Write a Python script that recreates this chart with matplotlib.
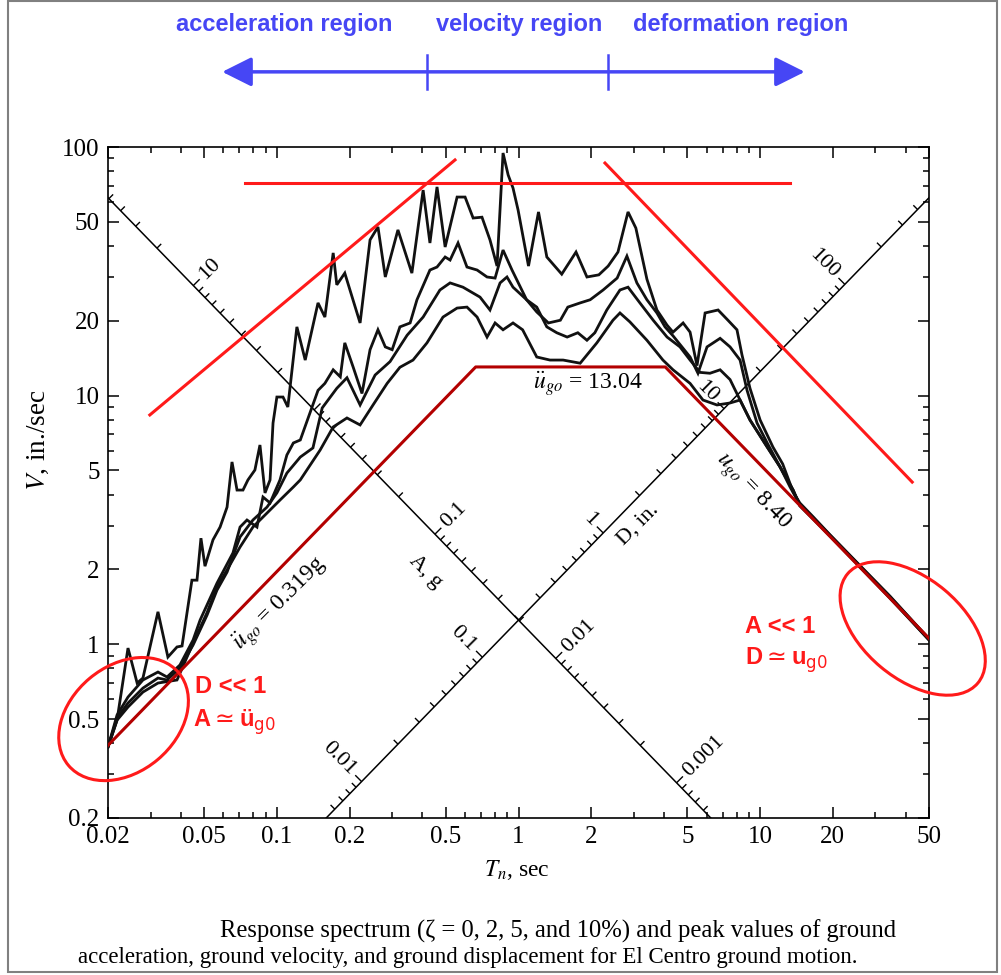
import numpy as np
import matplotlib.pyplot as plt
import matplotlib.transforms as mtransforms
from matplotlib.patches import Ellipse, Rectangle
from matplotlib.ticker import FixedLocator, FixedFormatter, LogLocator, NullFormatter

plt.rcParams['font.family'] = ['Liberation Serif', 'DejaVu Serif']
plt.rcParams['mathtext.fontset'] = 'stix'

# pseudo-velocity response spectra, El Centro (T in sec, V in in./sec)
T_z0 = [0.0200, 0.0218, 0.0242, 0.0264, 0.0279, 0.0322, 0.0354, 0.0386, 0.0405, 0.0445,
        0.0467, 0.0485, 0.0504, 0.0544, 0.0582, 0.0622, 0.0652, 0.0684, 0.0724, 0.0759,
        0.0811, 0.0851, 0.0893, 0.0937, 0.0964, 0.100, 0.106, 0.111, 0.121, 0.131,
        0.148, 0.158, 0.171, 0.177, 0.191, 0.221, 0.243, 0.262, 0.281, 0.317,
        0.362, 0.403, 0.430, 0.460, 0.497, 0.557, 0.601, 0.649, 0.706, 0.762,
        0.815, 0.863, 0.906, 0.949, 0.996, 1.10, 1.21, 1.31, 1.51, 1.73,
        1.92, 2.15, 2.35, 2.58, 2.84, 3.06, 3.40, 3.74, 4.12, 4.36,
        4.80, 5.13, 5.48, 5.92, 6.70, 7.36, 8.02, 8.41, 9.08, 10.0,
        11.3, 12.4, 13.7, 14.6, 16.6, 19.5, 25.2, 34.5, 50.0]
V_z0 = [0.386, 0.495, 0.965, 0.698, 0.731, 1.35, 0.888, 0.975, 0.984, 1.81,
        1.81, 2.67, 2.06, 2.63, 2.96, 3.56, 5.41, 4.17, 4.17, 4.58,
        5.02, 6.33, 4.06, 4.58, 7.76, 9.87, 9.87, 9.00, 18.9, 13.9,
        23.6, 20.7, 37.5, 27.9, 31.1, 19.6, 42.3, 47.7, 30.0, 46.4,
        31.1, 67.1, 41.1, 69.1, 39.6, 62.9, 62.9, 51.8, 52.2, 42.3,
        33.2, 94.6, 77.2, 68.4, 55.8, 33.2, 54.8, 36.1, 30.8, 37.8,
        30.0, 30.6, 33.2, 37.8, 54.8, 47.2, 29.4, 22.1, 19.2, 18.0,
        19.6, 18.0, 13.2, 21.5, 22.1, 20.1, 18.4, 14.6, 10.7, 7.98,
        6.21, 5.31, 4.10, 3.70, 3.25, 2.75, 2.13, 1.56, 1.05]

T_z2 = [0.0200, 0.0218, 0.0242, 0.0279, 0.0322, 0.0351, 0.0397, 0.0450, 0.0481, 0.0565,
        0.0658, 0.0704, 0.0752, 0.0827, 0.0876, 0.0937, 0.103, 0.110, 0.117, 0.125,
        0.148, 0.158, 0.171, 0.183, 0.191, 0.207, 0.225, 0.243, 0.262, 0.281,
        0.300, 0.323, 0.356, 0.380, 0.430, 0.460, 0.497, 0.521, 0.562, 0.612,
        0.674, 0.741, 0.800, 0.863, 0.940, 1.08, 1.19, 1.33, 1.49, 1.60,
        1.80, 1.98, 2.24, 2.56, 2.81, 3.09, 3.40, 3.74, 4.04, 4.36,
        5.13, 5.53, 6.03, 6.83, 7.51, 8.26, 8.83, 9.71, 10.7, 12.1,
        13.3, 14.6, 16.6, 19.5, 25.2, 34.5, 50.0]
V_z2 = [0.386, 0.519, 0.613, 0.718, 0.773, 0.738, 0.825, 1.04, 1.25, 1.76,
        2.33, 2.96, 3.16, 2.96, 3.91, 3.70, 4.58, 5.77, 6.45, 6.63,
        10.5, 11.2, 12.7, 11.9, 16.3, 13.0, 10.2, 15.3, 18.4, 15.7,
        15.3, 18.9, 19.6, 24.3, 32.0, 32.9, 36.1, 35.1, 41.1, 32.9,
        32.0, 30.0, 29.7, 38.5, 32.0, 24.3, 21.7, 19.6, 20.1, 22.7,
        23.6, 24.3, 26.6, 29.7, 36.4, 28.4, 24.3, 21.5, 18.9, 17.4,
        14.3, 12.3, 15.7, 17.0, 15.7, 13.9, 10.5, 7.76, 6.45, 5.16,
        4.29, 3.65, 3.22, 2.74, 2.12, 1.55, 1.05]

T_z5 = [0.0200, 0.0218, 0.0242, 0.0279, 0.0322, 0.0351, 0.0397, 0.0450, 0.0514, 0.0565,
        0.0622, 0.0704, 0.0796, 0.0910, 0.100, 0.110, 0.125, 0.141, 0.154, 0.177,
        0.195, 0.221, 0.255, 0.294, 0.346, 0.403, 0.473, 0.521, 0.589, 0.693,
        0.762, 0.839, 0.896, 0.949, 1.08, 1.19, 1.31, 1.44, 1.59, 1.76,
        1.92, 2.07, 2.32, 2.63, 2.84, 3.18, 3.61, 4.12, 4.66, 5.13,
        5.64, 6.20, 6.83, 7.51, 8.26, 9.08, 10.7, 12.1, 13.7, 14.6,
        16.6, 19.5, 25.2, 34.5, 50.0]
V_z5 = [0.386, 0.505, 0.580, 0.666, 0.731, 0.718, 0.802, 0.993, 1.31, 1.65,
        1.95, 2.70, 3.16, 3.56, 4.06, 4.88, 5.66, 6.16, 8.92, 10.7,
        11.8, 9.17, 12.1, 13.7, 17.5, 20.7, 26.6, 28.4, 27.3, 24.9,
        22.1, 28.4, 30.0, 27.3, 24.3, 22.7, 18.9, 17.9, 17.2, 17.9,
        16.7, 17.9, 22.1, 26.6, 27.3, 23.6, 20.1, 17.2, 15.7, 13.9,
        12.4, 12.3, 12.7, 11.6, 9.60, 7.98, 6.21, 5.16, 4.17, 3.62,
        3.20, 2.73, 2.11, 1.54, 1.04]

T_z10 = [0.0200, 0.0218, 0.0242, 0.0279, 0.0322, 0.0386, 0.0450, 0.0514, 0.0565, 0.0622,
         0.0704, 0.0796, 0.0910, 0.103, 0.117, 0.125, 0.151, 0.171, 0.195, 0.221,
         0.250, 0.286, 0.323, 0.366, 0.418, 0.487, 0.557, 0.612, 0.674, 0.741,
         0.800, 0.863, 0.949, 1.04, 1.19, 1.35, 1.53, 1.80, 2.11, 2.46,
         2.63, 2.89, 3.40, 3.96, 4.36, 5.13, 5.80, 6.63, 7.51, 8.26,
         9.08, 10.7, 12.1, 13.7, 14.6, 16.6, 19.5, 25.2, 34.5, 50.0]
V_z10 = [0.386, 0.495, 0.559, 0.642, 0.698, 0.718, 1.01, 1.34, 1.70, 1.99,
         2.46, 2.96, 3.37, 3.80, 4.29, 4.58, 6.04, 7.48, 8.13, 7.62,
         9.17, 11.2, 13.0, 13.9, 16.3, 20.7, 22.5, 22.7, 20.7, 17.2,
         19.6, 18.4, 19.6, 18.4, 14.3, 13.9, 13.9, 13.5, 16.3, 20.1,
         21.5, 19.8, 16.7, 13.9, 12.7, 11.2, 9.60, 9.17, 9.34, 9.60,
         7.98, 6.21, 5.16, 4.17, 3.60, 3.18, 2.72, 2.10, 1.53, 1.04]

# peak ground motion bounds (0.319 g, 13.04 in/s, 8.40 in)
T_ground = [0.02, 0.665, 4.05, 50.0]
V_ground = [0.392, 13.04, 13.04, 1.056]

# hand drawn red guide lines
T_acc_guide = [0.0298, 0.546]
V_acc_guide = [8.36, 88.7]
T_vel_guide = [0.0738, 13.3]
V_vel_guide = [71.7, 71.7]
T_def_guide = [2.28, 42.6]
V_def_guide = [86.2, 4.49]

# blue region arrow: ends and region boundaries
T_arrow_ends = [0.0594, 15.3]
T_region_bounds = [0.418, 2.35]

x_ticks = [0.02, 0.05, 0.1, 0.2, 0.5, 1, 2, 5, 10, 20, 50]
x_labels = ['0.02', '0.05', '0.1', '0.2', '0.5', '1', '2', '5', '10', '20', '50']
y_ticks = [0.2, 0.5, 1, 2, 5, 10, 20, 50, 100]
y_labels = ['0.2', '0.5', '1', '2', '5', '10', '20', '50', '100']

# tripartite diagonal axes
g = 386.1        # in/s^2
V_cross = 1.25   # A and D axes cross at T = 1 s
A_labels = [10, 0.1, 0.01, 0.001]
D_labels = [0.01, 0.1, 1, 10, 100]

red = '#ff1a1a'
dark_red = '#b30000'
blue = '#4646f5'

fig = plt.figure(figsize=(10.01, 9.75), dpi=100)
ax = fig.add_axes([108 / 1001, 1 - 818 / 975, 821 / 1001, 671 / 975])
ax.set_xscale('log')
ax.set_yscale('log')
ax.set_xlim(0.02, 50)
ax.set_ylim(0.2, 100)

ax.xaxis.set_major_locator(FixedLocator(x_ticks))
ax.xaxis.set_major_formatter(FixedFormatter(x_labels))
ax.yaxis.set_major_locator(FixedLocator(y_ticks))
ax.yaxis.set_major_formatter(FixedFormatter(y_labels))
for axis in (ax.xaxis, ax.yaxis):
    axis.set_minor_locator(LogLocator(base=10, subs=np.arange(2, 10)))
    axis.set_minor_formatter(NullFormatter())
ax.tick_params(which='both', direction='in', top=True, right=True, labelsize=18, width=1.1)
ax.tick_params(which='major', length=8)
ax.tick_params(which='minor', length=4)
ax.tick_params(axis='x', pad=6)
ax.tick_params(axis='y', pad=6)
for s in ax.spines.values():
    s.set_linewidth(1.2)

# diagonal A and D axes
T_A_end = V_cross / 0.2
ax.plot([0.02, T_A_end], [V_cross / 0.02, V_cross / T_A_end], color='black', lw=1.1, zorder=2)
T_D_start = 0.2 / V_cross
ax.plot([T_D_start, 50], [V_cross * T_D_start, V_cross * 50], color='black', lw=1.1, zorder=2)

to_disp = ax.transData.transform
to_data = ax.transData.inverted().transform


def diag_tick(T, V, direction, length):
    x0, y0 = to_disp((T, V))
    T1, V1 = to_data((x0 + direction[0] * length, y0 + direction[1] * length))
    ax.plot([T, T1], [V, V1], color='black', lw=1.0, zorder=2, solid_capstyle='butt')


up_right = (np.sqrt(0.5), np.sqrt(0.5))
up_left = (-np.sqrt(0.5), np.sqrt(0.5))
for k in range(-4, 2):
    for m in range(1, 10):
        a = m * 10.0 ** k
        T = np.sqrt(2 * np.pi * V_cross / (g * a))
        if 0.02 <= T <= T_A_end:
            diag_tick(T, V_cross / T, up_right, 9 if m == 1 else 6)
for k in range(-3, 3):
    for m in range(1, 10):
        d = m * 10.0 ** k
        T = np.sqrt(2 * np.pi * d / V_cross)
        if T_D_start <= T <= 50:
            diag_tick(T, V_cross * T, up_left, 9 if m == 1 else 6)

for a in A_labels:
    T = np.sqrt(2 * np.pi * V_cross / (g * a))
    ax.annotate(f'{a:g}', xy=(T, V_cross / T), xytext=(9, 9), textcoords='offset pixels',
                rotation=45, rotation_mode='anchor', ha='left', va='center', fontsize=16, zorder=2)
for d in D_labels:
    T = np.sqrt(2 * np.pi * d / V_cross)
    ax.annotate(f'{d:g}', xy=(T, V_cross * T), xytext=(-9, 9), textcoords='offset pixels',
                rotation=-45, rotation_mode='anchor', ha='right', va='center', fontsize=16, zorder=2)
ax.text(0.41, 1.95, 'A, g', rotation=-45, ha='center', va='center', fontsize=16)
ax.text(3.12, 3.02, 'D, in.', rotation=45, ha='center', va='center', fontsize=16)

# spectra
for T, V in [(T_z0, V_z0), (T_z2, V_z2), (T_z5, V_z5), (T_z10, V_z10)]:
    ax.plot(T, V, color='#111111', lw=2.0, zorder=3, solid_joinstyle='miter')

# ground motion bounds and guide lines
ax.plot(T_ground, V_ground, color=dark_red, lw=2.2, zorder=4)
for T, V in [(T_acc_guide, V_acc_guide), (T_vel_guide, V_vel_guide), (T_def_guide, V_def_guide)]:
    ax.plot(T, V, color=red, lw=2.2, zorder=4)

ax.text(1.94, 11.2, r'$\ddot{u}_{go}$ = 13.04', ha='center', va='center', fontsize=17, zorder=5)
ax.text(0.103, 1.46, r'$\ddot{u}_{go}$ = 0.319g', rotation=45, ha='center', va='center', fontsize=17, zorder=5)
ax.text(9.26, 4.10, r'$u_{go}$ = 8.40', rotation=-46, ha='center', va='center', fontsize=17, zorder=5)

sans = ['Liberation Sans', 'DejaVu Sans']
ax.text(0.0458, 0.679, 'D << 1', color=red, fontsize=17, family=sans, fontweight='bold',
        ha='left', va='center', zorder=6)
ax.text(0.0450, 0.487, r'A$\simeq$ü$_{\mathsf{g0}}$', color=red, fontsize=17, family=sans,
        fontweight='bold', math_fontfamily='dejavusans', ha='left', va='center', zorder=6)
ax.text(8.66, 1.18, 'A << 1', color=red, fontsize=17, family=sans, fontweight='bold',
        ha='left', va='center', zorder=6)
ax.text(8.66, 0.864, r'D$\simeq$u$_{\mathsf{g0}}$', color=red, fontsize=17, family=sans,
        fontweight='bold', math_fontfamily='dejavusans', ha='left', va='center', zorder=6)

# circled regions
for tc, vc, w, h, ang in [(0.0232, 0.500, 1.44, 1.06, 40), (42.8, 1.157, 1.70, 1.00, -40)]:
    trans = fig.dpi_scale_trans + mtransforms.ScaledTranslation(tc, vc, ax.transData)
    fig.add_artist(Ellipse((0, 0), w, h, angle=ang, transform=trans, fill=False,
                           ec=red, lw=2.2, zorder=6))

# region arrow above the plot
bt = mtransforms.blended_transform_factory(ax.transData, ax.transAxes)
ax.annotate('', xy=(T_arrow_ends[1], 1.112), xytext=(T_arrow_ends[0], 1.112),
            xycoords=bt, textcoords=bt, annotation_clip=False,
            arrowprops=dict(arrowstyle='<|-|>,head_length=0.6,head_width=0.3', mutation_scale=30,
                            color=blue, lw=2.5, shrinkA=0, shrinkB=0))
for Tb in T_region_bounds:
    ax.plot([Tb, Tb], [1.087, 1.137], transform=bt, color=blue, lw=1.8, clip_on=False)
for x, label in [(0.284, 'acceleration region'), (0.519, 'velocity region'), (0.740, 'deformation region')]:
    fig.text(x, 1 - 24 / 975, label, color=blue, fontsize=17, family=sans, fontweight='bold',
             ha='center', va='center')

fig.text(38 / 1001, 1 - 440 / 975, r'$V$, in./sec', rotation=90, ha='center', va='center', fontsize=19.5)
fig.text(517 / 1001, 1 - 870 / 975, r'$T_n$, sec', ha='center', va='center', fontsize=17)
fig.text(220 / 1001, 1 - 931 / 975, 'Response spectrum (ζ = 0, 2, 5, and 10%) and peak values of ground',
         ha='left', va='center', fontsize=17.7)
fig.text(78 / 1001, 1 - 957 / 975,
         'acceleration, ground velocity, and ground displacement for El Centro ground motion.',
         ha='left', va='center', fontsize=16.5)

fig.add_artist(Rectangle((8 / 1001, 3 / 975), 989 / 1001, 971 / 975, transform=fig.transFigure,
                         fill=False, ec='#808080', lw=1.5))

fig.savefig('out.png', dpi=100)
